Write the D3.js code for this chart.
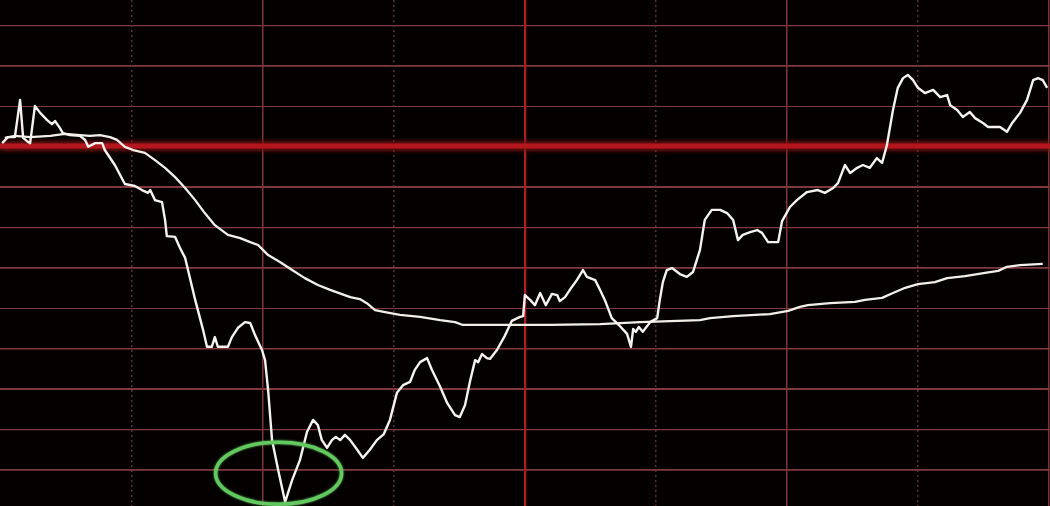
<!DOCTYPE html>
<html>
<head>
<meta charset="utf-8">
<script src="https://cdn.jsdelivr.net/npm/d3@7"></script>
<style>
html,body{margin:0;padding:0;background:#040000;overflow:hidden;}
svg{display:block;}
</style>
</head>
<body>
<svg id="chart" width="1050" height="506"></svg>
<script>
// ---- data (minutes since open, % change vs previous close) ----
const priceMinutes = [0.5,1.8,3.4,4.6,5.3,6.2,6.9,8.0,9.2,10.8,11.9,12.6,13.7,14.4,16.0,18.3,19.5,20.2,21.8,23.4,24.0,26.3,28.6,30.9,32.5,33.9,34.4,35.5,37.1,37.8,38.2,40.1,41.2,42.4,44.7,46.5,47.4,48.5,49.2,49.9,52.2,53.1,54.5,56.1,57.3,58.4,60.0,60.7,61.4,62.3,63.7,65.3,66.9,68.7,70.3,71.7,72.8,73.7,74.9,76.0,76.9,77.9,79.0,80.2,81.8,83.1,84.7,86.3,87.9,89.3,90.9,92.3,93.9,95.0,96.2,97.8,98.9,100.8,102.4,104.2,105.3,106.5,107.6,108.8,109.5,110.4,111.5,112.2,113.8,115.6,117.2,119.1,119.8,120.2,121.4,122.5,123.7,125.0,126.4,127.6,128.2,129.4,130.5,132.1,133.5,134.4,136.3,137.4,138.5,140.1,142.0,143.6,144.5,145.0,145.6,146.3,147.2,148.9,150.5,151.1,151.8,152.7,153.9,155.7,157.3,158.7,160.3,161.4,163.0,164.9,166.5,167.9,169.0,170.1,171.8,173.4,174.5,175.9,178.2,179.1,180.9,182.5,184.8,187.3,188.9,190.8,191.9,193.5,194.7,196.3,197.6,199.2,200.8,202.0,203.1,204.5,205.6,206.8,207.9,209.1,210.2,211.8,213.7,215.3,216.9,217.6,219.2,220.5,222.1,223.3,225.1,226.3,229.0,230.6,231.8,233.6,235.2,236.6,237.7,238.8,239.8];
const priceValues = [0.07,0.22,0.22,1.14,0.20,0.12,0.07,0.99,0.82,0.64,0.54,0.62,0.45,0.32,0.27,0.25,0.15,-0.02,0.07,0.07,-0.10,-0.47,-0.94,-0.99,-1.09,-1.16,-1.09,-1.34,-1.39,-1.83,-2.23,-2.25,-2.52,-2.77,-3.81,-4.55,-4.97,-4.97,-4.73,-4.97,-4.97,-4.73,-4.50,-4.36,-4.38,-4.68,-5.05,-5.30,-6.04,-7.28,-8.02,-8.81,-8.27,-7.77,-7.08,-6.78,-6.91,-7.28,-7.47,-7.28,-7.20,-7.28,-7.15,-7.28,-7.52,-7.72,-7.52,-7.28,-7.13,-6.78,-6.11,-5.92,-5.84,-5.54,-5.35,-5.25,-5.54,-5.96,-6.36,-6.66,-6.71,-6.41,-5.84,-5.30,-5.35,-5.15,-5.25,-5.27,-5.05,-4.70,-4.33,-4.23,-4.21,-3.69,-3.81,-3.94,-3.64,-3.94,-3.66,-3.69,-3.84,-3.74,-3.56,-3.32,-3.07,-3.24,-3.32,-3.56,-3.81,-4.26,-4.46,-4.65,-4.97,-4.53,-4.60,-4.48,-4.60,-4.36,-4.26,-3.81,-3.37,-3.07,-3.02,-3.17,-3.24,-3.12,-2.57,-1.83,-1.58,-1.58,-1.66,-1.83,-2.33,-2.20,-2.13,-2.08,-2.15,-2.38,-2.38,-1.86,-1.51,-1.34,-1.14,-1.09,-1.16,-1.04,-0.92,-0.47,-0.67,-0.54,-0.47,-0.54,-0.30,-0.42,0.02,0.89,1.44,1.68,1.76,1.63,1.44,1.31,1.39,1.21,1.26,1.01,0.89,0.72,0.84,0.69,0.57,0.47,0.47,0.35,0.57,0.82,1.14,1.63,1.68,1.63,1.44];

const avgMinutes = [1.1,3.4,6.9,11.5,14.9,18.3,20.6,22.9,25.2,26.8,28.6,30.5,33.2,35.5,37.8,40.1,42.4,44.7,46.9,49.2,52.2,55.0,57.3,59.1,60.2,61.4,64.1,66.9,69.8,72.8,75.6,80.2,82.4,84.0,85.9,88.2,91.6,96.2,100.8,104.2,106.0,114.5,126.0,137.4,146.6,160.3,162.6,167.9,176.3,180.5,183.2,185.0,190.1,195.8,198.1,202.0,204.5,207.3,210.2,214.1,216.9,221.0,225.6,228.6,230.6,233.6,238.8];
const avgValues = [0.20,0.25,0.22,0.25,0.30,0.27,0.25,0.27,0.22,0.15,-0.02,-0.10,-0.17,-0.35,-0.54,-0.77,-1.04,-1.34,-1.66,-1.96,-2.20,-2.28,-2.38,-2.45,-2.57,-2.70,-2.87,-3.07,-3.27,-3.44,-3.56,-3.74,-3.79,-3.89,-4.06,-4.11,-4.18,-4.23,-4.31,-4.36,-4.43,-4.43,-4.43,-4.41,-4.36,-4.31,-4.26,-4.21,-4.16,-4.08,-3.98,-3.94,-3.89,-3.86,-3.81,-3.76,-3.64,-3.51,-3.42,-3.37,-3.27,-3.22,-3.14,-3.09,-2.99,-2.95,-2.92];

const hGridValues = [3,2,1,0,-1,-2,-3,-4,-5,-6,-7,-8];
const vGridMinutes = [30,60,90,120,150,180,210,240];
const vGridKinds  = ["dot","solid","dot","center","dot","solid","dot","solid"];

const markMinute = [63.8];
const markValue  = [-8.1];

// ---- scales ----
const W = 1050, H = 506;
const x = d3.scaleLinear().domain([0,240]).range([0,1048]);
const y = d3.scaleLinear().domain([0,-1]).range([146,186.4]);

const svg = d3.select("#chart");
const defs = svg.append("defs");
function mkFilter(id, sd, merge){
  const f = defs.append("filter").attr("id",id).attr("filterUnits","userSpaceOnUse")
    .attr("x",0).attr("y",0).attr("width",W).attr("height",H);
  f.append("feGaussianBlur").attr("stdDeviation",sd).attr("result","b");
  if(merge){ const mm=f.append("feMerge"); mm.append("feMergeNode").attr("in","b"); mm.append("feMergeNode").attr("in","SourceGraphic"); }
}
mkFilter("glow",1.2,true);
mkFilter("soft",0.6,false);
mkFilter("wide",2.0,false);

svg.append("rect").attr("width",W).attr("height",H).attr("fill","#040000");

// horizontal grid via axis
const gH = svg.append("g").attr("class","hgrid")
  .call(d3.axisLeft(y).tickValues(hGridValues).tickSize(-W).tickFormat(""));
gH.select(".domain").remove();
gH.selectAll(".tick line")
  .attr("stroke", d => d === 0 ? "none" : "#83383b")
  .attr("stroke-width", 2)
  .attr("filter","url(#soft)");

// vertical grid via axis
const gV = svg.append("g").attr("class","vgrid")
  .call(d3.axisTop(x).tickValues(vGridMinutes).tickSize(-H).tickFormat(""));
gV.select(".domain").remove();
gV.selectAll(".tick line")
  .attr("stroke", (d,i) => vGridKinds[i] === "center" ? "#b01c22" : vGridKinds[i] === "dot" ? "#5e3333" : "#7e3537")
  .attr("stroke-width", (d,i) => vGridKinds[i] === "center" ? 3.5 : 2)
  .attr("stroke-dasharray", (d,i) => vGridKinds[i] === "dot" ? "2,3" : null)
  .attr("filter","url(#soft)");

// thick previous-close line
const zeroG = svg.append("g");
zeroG.append("line").attr("x1",0).attr("x2",W).attr("y1",y(0)).attr("y2",y(0))
  .attr("stroke","#7a0e14").attr("stroke-width",9).attr("filter","url(#wide)");
zeroG.append("line").attr("x1",0).attr("x2",W).attr("y1",y(0)).attr("y2",y(0))
  .attr("stroke","#b3161d").attr("stroke-width",5).attr("filter","url(#soft)");

// lines
const avgData = avgMinutes.map((t,i)=>[t,avgValues[i]]);
const priceData = priceMinutes.map((t,i)=>[t,priceValues[i]]);
const line = d3.line().x(d=>x(d[0])).y(d=>y(d[1]));

svg.append("path").datum(avgData).attr("d",line)
  .attr("fill","none").attr("stroke","#f3efe8").attr("stroke-width",2.3)
  .attr("stroke-linejoin","round");
svg.append("path").datum(priceData).attr("d",line)
  .attr("fill","none").attr("stroke","#f6f3ee").attr("stroke-width",2.4)
  .attr("stroke-linejoin","round");

// green annotation ellipse
svg.selectAll("ellipse.mark").data(markMinute).enter().append("ellipse")
  .attr("class","mark")
  .attr("cx",(d)=>x(d)).attr("cy",(d,i)=>y(markValue[i]))
  .attr("rx",63).attr("ry",31)
  .attr("fill","none").attr("stroke","#62c85e").attr("stroke-width",3.5)
  .attr("filter","url(#glow)");
</script>
</body>
</html>
